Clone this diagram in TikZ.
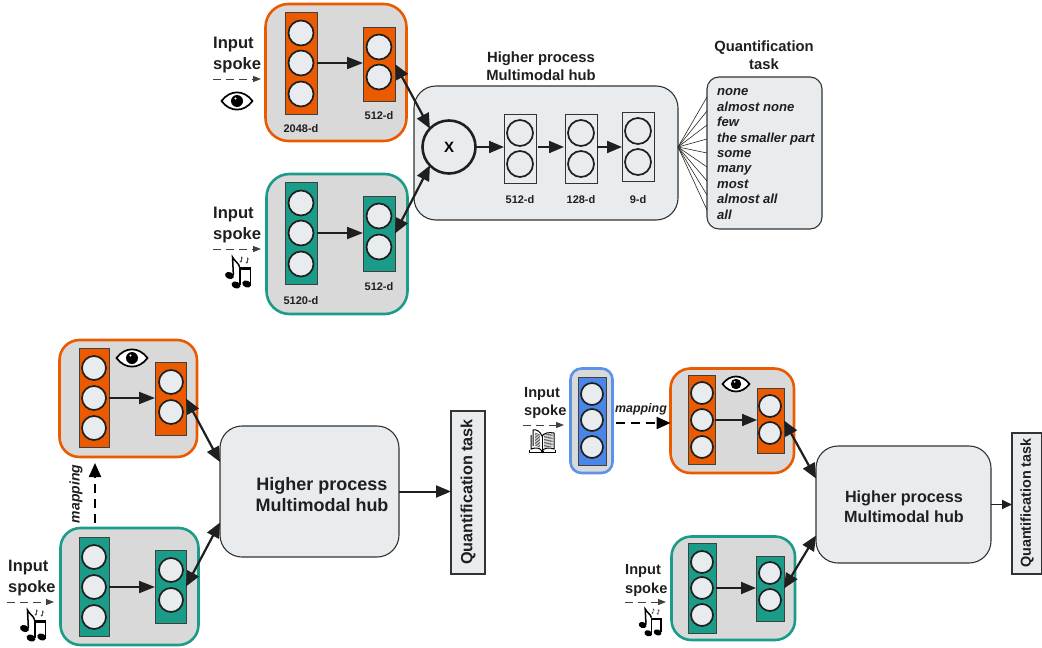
\documentclass[tikz,border=0pt]{standalone}
\usepackage{fontspec}
\setmainfont{Liberation Sans}
\usetikzlibrary{arrows.meta,calc}
\definecolor{orangec}{HTML}{EC5A00}
\definecolor{tealc}{HTML}{1B9C88}
\definecolor{bluec}{HTML}{4A86E8}
\definecolor{panelc}{HTML}{D9D9D9}
\definecolor{lightc}{HTML}{E9ECEE}
\definecolor{inkc}{HTML}{1F1F1F}
\newcommand{\fs}[2]{\fontsize{#1}{#2}\selectfont\bfseries}
\newcommand{\bx}[6]{%
  \pgfmathsetmacro\bxcx{(#2+#4)/2}\pgfmathsetmacro\bxcy{(#3+#5)/2}%
  \pgfmathsetmacro\bxw{#4-#2}\pgfmathsetmacro\bxh{#5-#3}%
  \node[#6,minimum width=\bxw pt,minimum height=\bxh pt] (#1) at (\bxcx,\bxcy) {};}
\newcommand{\cir}[4][12.5]{\node[neuron,minimum size=#1*2pt] (#2) at (#3,#4) {};}
\tikzset{
  x=1pt,y=-1pt,
  panel/.style={draw,fill=panelc,line width=2.6pt,inner sep=0pt,outer sep=0pt},
  orangepanel/.style={panel,draw=orangec,rounded corners=23pt},
  tealpanel/.style={panel,draw=tealc,rounded corners=23pt},
  bluepanel/.style={panel,draw=bluec!90!white,rounded corners=11pt},
  orangebar/.style={draw=black!75,line width=.9pt,fill=orangec,inner sep=0pt,outer sep=0pt},
  tealbar/.style={draw=black!75,line width=.9pt,fill=tealc,inner sep=0pt,outer sep=0pt},
  bluebar/.style={draw=black!75,line width=.9pt,fill=bluec,inner sep=0pt,outer sep=0pt},
  whitebar/.style={draw=black!80,line width=.8pt,fill=lightc,inner sep=0pt,outer sep=0pt},
  neuron/.style={circle,draw=inkc,line width=1.7pt,fill=lightc,inner sep=0pt,outer sep=0pt},
  hubbox/.style={draw=black!80,line width=1.1pt,fill=lightc,rounded corners=22pt,inner sep=0pt,outer sep=0pt},
  taskbox/.style={draw=black!80,line width=1.1pt,fill=lightc,inner sep=0pt,outer sep=0pt},
  bigflow/.style={draw=inkc,line width=2pt,-{Triangle[length=16pt,width=12pt]}},
  smallflow/.style={draw=inkc,line width=2pt,-{Triangle[length=15pt,width=12pt]}},
  bothway/.style={draw=inkc,line width=2.2pt,{Triangle[length=15pt,width=13pt]}-{Triangle[length=15pt,width=13pt]}},
  spokearrow/.style={draw=black!75,line width=1pt,dash pattern=on 8pt off 5pt,-{Triangle[length=8pt,width=6pt]}},
  mapflow/.style={draw=black,line width=2.2pt,dash pattern=on 9pt off 6pt,-{Triangle[length=14pt,width=12pt]}},
  fanline/.style={draw=black!85,line width=.6pt},
  dimlabel/.style={font=\fs{11}{13},text=inkc,inner sep=0pt},
  headlabel/.style={font=\fs{14.8}{18},align=center,text=inkc,inner sep=0pt},
  pics/eyeicon/.style={code={
    \draw[line width=1.7pt,fill=white] (-15.5,0) .. controls (-7,-11.5) and (7,-11.5) .. (15.5,0) .. controls (7,11.5) and (-7,11.5) .. (-15.5,0) -- cycle;
    \fill[black] (0,0) circle (6);
    \fill[white] (-1.5,-2.5) circle (1.1);
  }},
  pics/musicicon/.style={code={
    \fill[black,rotate around={-20:(-8.5,3.5)}] (-8.5,3.5) ellipse (4.6 and 3.4);
    \draw[line width=1.5pt] (-4.6,3) -- (-5.5,-15) .. controls (-3,-10) and (1,-9) .. (1.5,-5);
    \fill[black,rotate around={-20:(-2,13)}] (-2,13) ellipse (4.6 and 3.4);
    \fill[black,rotate around={-20:(8.7,12)}] (8.7,12) ellipse (4.6 and 3.4);
    \draw[line width=1.5pt] (1.9,12.5) -- (1.9,-3.5);
    \draw[line width=1.5pt] (12.6,11.5) -- (12.6,-3.5);
    \draw[line width=2.8pt] (1.2,-3.5) -- (13.3,-3.5);
    \draw[line width=.6pt,black!70] (3.5,-11) -- (3.5,-15) -- (5,-13.5);
    \draw[line width=.6pt,black!70] (9.5,-10) -- (9.5,-14) -- (11,-12.5);
    \fill[black!70] (2.8,-10.5) circle (1.1);
    \fill[black!70] (8.8,-9.5) circle (1.1);
  }},
  pics/bookicon/.style={code={
    \draw[line width=1pt,fill=white] (-13,9) -- (-13,11) -- (13,11) -- (13,9);
    \draw[line width=1pt,fill=white] (-11,-6) -- (-11,8) .. controls (-6,6) and (-2,7) .. (0,10) .. controls (2,7) and (7,6) .. (12,8) -- (12,-8) .. controls (7,-9) and (2,-8) .. (0,-5) .. controls (-2,-10) and (-6,-12) .. (-9,-11) -- (-9,5);
    \draw[line width=1pt] (0,-5) -- (0,10);
    \foreach \i in {-6,-4.5,...,6}{
      \draw[line width=.6pt,black!75] (2,\i) -- (10.5,\i-1);
      \draw[line width=.6pt,black!75] (-2,\i) -- (-7,\i-2);
    }
    \fill[black] (-1.5,10) rectangle (1.5,12);
  }},
}
\begin{document}
\begin{tikzpicture}
\useasboundingbox (0,0) rectangle (1042,648);

% ---------- top ----------
\bx{hubA}{414}{86}{678}{220}{hubbox}
\bx{taskA}{707}{77}{822}{229}{taskbox,rounded corners=12pt}
\bx{pOa}{265.5}{4}{406.5}{141}{orangepanel}
\bx{pTa}{266.5}{174}{407.5}{314}{tealpanel}
\bx{rOa}{285}{12}{317}{114}{orangebar}
\bx{rOb}{363}{27}{395}{101}{orangebar}
\bx{rTa}{285}{182}{317}{284}{tealbar}
\bx{rTb}{363}{196}{395}{271}{tealbar}
\cir{a1}{301}{33}\cir{a2}{301}{63}\cir{a3}{301}{94}
\cir{a4}{379}{47}\cir{a5}{379}{77}
\cir{a6}{301}{203}\cir{a7}{301}{233}\cir{a8}{301}{264}
\cir{a9}{379}{216}\cir{a10}{379}{247}
\node[dimlabel] (la1) at (301,129) {2048-d};
\node[dimlabel] (la2) at (379,116) {512-d};
\node[dimlabel] (la3) at (301,301) {5120-d};
\node[dimlabel] (la4) at (379,287) {512-d};
\node[circle,draw=inkc,line width=2.6pt,fill=lightc,minimum size=53pt,inner sep=0pt,outer sep=0pt,font=\fs{15}{18}] (mix) at (449,147) {X};
\bx{hA}{504}{114}{536}{183}{whitebar}
\bx{hB}{565}{114}{597}{183}{whitebar}
\bx{hC}{622}{112}{654}{181}{whitebar}
\cir[13]{h1}{520}{133}\cir[13]{h2}{520}{164}
\cir[13]{h3}{581}{133}\cir[13]{h4}{581}{164}
\cir[13]{h5}{638}{131}\cir[13]{h6}{638}{162}
\node[dimlabel] (lh1) at (520,200) {512-d};
\node[dimlabel] (lh2) at (581,200) {128-d};
\node[dimlabel] (lh3) at (638,200) {9-d};
\draw[bigflow] (a2-|rOa.east) -- (a2-|rOb.west);
\draw[bigflow] (a7-|rTa.east) -- (a7-|rTb.west);
\draw[bothway] (rOb.east) -- (mix.136);
\draw[bothway] (rTb.east) -- (mix.224);
\draw[smallflow] (mix.east) -- (mix.east-|hA.west);
\draw[smallflow] ([xshift=2pt]mix.east-|hA.east) -- ([xshift=-1pt]mix.east-|hB.west);
\draw[smallflow] (mix.east-|hB.east) -- (mix.east-|hC.west);
\foreach \s in {56,42,28,14,0,-14,-28,-42,-57}{
  \draw[fanline] ([yshift=6pt]hubA.east) -- ([yshift=\s pt]taskA.west);
}
\node[headlabel] (headA) at (541,66) {Higher process\\Multimodal hub};
\node[headlabel,font=\fs{14.8}{18}] (headB) at (764,55) {Quantification\\task};
\node[anchor=west,align=left,inner sep=0pt,text=inkc,font=\fontsize{13.1}{15.45}\selectfont\bfseries\itshape] (items) at (717,154) {none\\almost none\\few\\the smaller part\\some\\many\\most\\almost all\\all};
\node[anchor=west,align=left,inner sep=0pt,text=inkc,font=\fs{16.6}{21}] (inA) at (213,55.5) {Input\\spoke};
\coordinate (sa1) at (213,79); \coordinate (sa2) at (261,79);
\draw[spokearrow] (sa1) -- (sa2);
\pic at (237,101) {eyeicon};
\node[anchor=west,align=left,inner sep=0pt,text=inkc,font=\fs{16.6}{21}] (inB) at (213,225.5) {Input\\spoke};
\coordinate (sb1) at (213,249); \coordinate (sb2) at (261,249);
\draw[spokearrow] (sb1) -- (sb2);
\pic at (238,272) {musicicon};

% ---------- bottom left ----------
\bx{hubB}{220}{426}{399}{557}{hubbox}
\bx{taskB}{451}{411}{485}{574}{taskbox}
\bx{pOc}{59.5}{340}{197}{457}{orangepanel,rounded corners=20pt}
\bx{pTc}{60.5}{528}{198.5}{645}{tealpanel,rounded corners=20pt}
\bx{rOc}{79}{348}{109}{447}{orangebar}
\bx{rOd}{155}{362}{186}{435}{orangebar}
\bx{rTc}{79}{537}{109}{636}{tealbar}
\bx{rTd}{155}{550}{186}{623}{tealbar}
\cir[12]{c1}{94}{368}\cir[12]{c2}{94}{398}\cir[12]{c3}{94}{428}
\cir[12]{c4}{171}{382}\cir[12]{c5}{171}{412}
\cir[12]{c6}{94}{557}\cir[12]{c7}{94}{587}\cir[12]{c8}{94}{617}
\cir[12]{c9}{171}{570}\cir[12]{c10}{171}{600}
\draw[bigflow] (c2-|rOc.east) -- (c2-|rOd.west);
\draw[bigflow] (c7-|rTc.east) -- (c7-|rTd.west);
\draw[bothway] (rOd.east) -- ([yshift=29.5pt]hubB.west);
\draw[bothway] (rTd.east) -- ([yshift=-31pt]hubB.west);
\draw[smallflow] (hubB.east) -- (hubB.east-|taskB.west);
\node[font=\fs{18}{21},align=center,text=inkc,inner sep=0pt] (hubTextB) at (322,494.5) {Higher process\\Multimodal hub};
\node[rotate=90,font=\fs{16.2}{17},text=inkc,inner sep=0pt] (taskTextB) at (468,492) {Quantification task};
\pic at (132,358) {eyeicon};
\coordinate (m1) at (95,523); \coordinate (m2) at (95,463);
\draw[mapflow] (m1) -- (m2);
\node[rotate=90,font=\fontsize{14}{16}\selectfont\bfseries\itshape,text=inkc,inner sep=0pt] (mapB) at (76,494) {mapping};
\node[anchor=west,align=left,inner sep=0pt,text=inkc,font=\fs{16.4}{20.5}] (inC) at (8,578) {Input\\spoke};
\coordinate (sc1) at (7,602); \coordinate (sc2) at (54,602);
\draw[spokearrow] (sc1) -- (sc2);
\pic at (33,625) {musicicon};

% ---------- bottom right ----------
\bx{hubC}{816}{446}{991}{563}{hubbox}
\bx{taskC}{1012}{433}{1041.5}{574}{taskbox}
\bx{pBe}{570.5}{368.5}{612.5}{473}{bluepanel}
\bx{rBe}{578}{377}{606}{465}{bluebar}
\cir[11]{e1}{592}{394}\cir[11]{e2}{592}{420}\cir[11]{e3}{592}{447}
\bx{pOe}{670.5}{368.5}{794}{473}{orangepanel,rounded corners=20pt}
\bx{rOe}{688}{375}{715}{464}{orangebar}
\bx{rOf}{757}{388}{784}{453}{orangebar}
\cir[11]{e4}{702}{393}\cir[11]{e5}{702}{420}\cir[11]{e6}{702}{447}
\cir[11]{e7}{770}{406}\cir[11]{e8}{770}{433}
\bx{pTe}{671.5}{536.5}{795}{640}{tealpanel,rounded corners=20pt}
\bx{rTe}{688}{543}{716}{633}{tealbar}
\bx{rTf}{756}{556}{784}{621}{tealbar}
\cir[11]{e9}{702}{562}\cir[11]{e10}{702}{588}\cir[11]{e11}{702}{615}
\cir[11]{e12}{770}{573}\cir[11]{e13}{770}{600}
\draw[smallflow] (e5-|rOe.east) -- (e5-|rOf.west);
\draw[smallflow] (e10-|rTe.east) -- (e10-|rTf.west);
\draw[bothway] (rOf.east) -- ([yshift=26pt]hubC.west);
\draw[bothway] (rTf.east) -- ([yshift=-31pt]hubC.west);
\draw[draw=inkc,line width=1.8pt,-{Triangle[length=10pt,width=9pt]}] (hubC.east) -- (hubC.east-|taskC.west);
\node[font=\fs{16.2}{20},align=center,text=inkc,inner sep=0pt] (hubTextC) at (904,506.5) {Higher process\\Multimodal hub};
\node[rotate=90,font=\fs{14.4}{15},text=inkc,inner sep=0pt] (taskTextC) at (1027,503) {Quantification task};
\pic[scale=.87] at (736,384) {eyeicon};
\node[anchor=west,align=left,inner sep=0pt,text=inkc,font=\fs{14.6}{18.5}] (inD) at (524,403) {Input\\spoke};
\coordinate (sd1) at (523,425); \coordinate (sd2) at (564,425);
\draw[spokearrow] (sd1) -- (sd2);
\pic at (542,441) {bookicon};
\coordinate (m3) at (616,423);
\draw[mapflow] (m3) -- (pOe.west|-m3);
\node[font=\fontsize{12.4}{15}\selectfont\bfseries\itshape,text=inkc,inner sep=0pt] (mapC) at (641,409) {mapping};
\node[anchor=west,align=left,inner sep=0pt,text=inkc,font=\fs{14.6}{19}] (inE) at (625,580.5) {Input\\spoke};
\coordinate (se1) at (625,602); \coordinate (se2) at (666,602);
\draw[spokearrow] (se1) -- (se2);
\pic[scale=.87] at (650,622) {musicicon};
\end{tikzpicture}
\end{document}
